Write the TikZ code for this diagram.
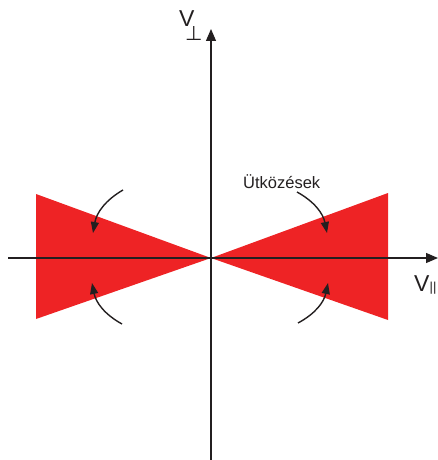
\documentclass[tikz,border=0pt]{standalone}
\usepackage{fontspec}
\setmainfont{Liberation Sans}
\newfontfamily\symfont{DejaVu Sans}
\usetikzlibrary{arrows.meta}
\definecolor{cone}{HTML}{EE2325}
\definecolor{ink}{HTML}{231F20}
\tikzset{
  axis/.style={draw=ink, line width=1.2pt, -{Triangle[length=12pt,width=10pt]}},
  coll/.style={draw=ink, line width=1.4pt, -{Triangle[length=11pt,width=8pt]}},
  lbl/.style={inner sep=0pt, anchor=base west, text=ink},
  lossfill/.style={fill=cone, draw=none}
}
\begin{document}
\begin{tikzpicture}[x=1pt,y=-1pt]
\useasboundingbox (0,0) rectangle (438,460);
% loss cone
\fill[lossfill] (36,194) -- (211,258) -- (36,319) -- cycle;
\fill[lossfill] (388,193) -- (211,258) -- (388,320) -- cycle;
% axes
\coordinate (xs) at (8,258);
\coordinate (xe) at (438,258);
\coordinate (ys) at (211,460);
\coordinate (ye) at (211,29);
\draw[axis] (xs) -- (xe);
\draw[axis] (ys) -- (ye);
% labels
\node[lbl, font=\fontsize{23}{23}\selectfont] (vp) at (179,27)
  {V\kern-9.3pt\raisebox{-14pt}{\symfont\fontsize{20}{20}\selectfont ⊥}};
\node[lbl, font=\fontsize{23}{23}\selectfont] (vl) at (414,291)
  {V\kern0.2pt{\fontsize{13}{13}\selectfont ||}};
\node[lbl, font=\fontsize{16.5}{16.5}\selectfont] (utk) at (243,188) {Ütközések};
% collision arrows
\coordinate (a1s) at (123,190); \coordinate (a1e) at (93,233);
\coordinate (a2s) at (122,324); \coordinate (a2e) at (92,283);
\coordinate (a3s) at (297,192); \coordinate (a3e) at (327,233);
\coordinate (a4s) at (298,323); \coordinate (a4e) at (328,283);
\draw[coll] (a1s) to[bend right=25] (a1e);
\draw[coll] (a2s) to[bend left=25] (a2e);
\draw[coll] (a3s) to[bend left=25] (a3e);
\draw[coll] (a4s) to[bend right=25] (a4e);
\end{tikzpicture}
\end{document}
